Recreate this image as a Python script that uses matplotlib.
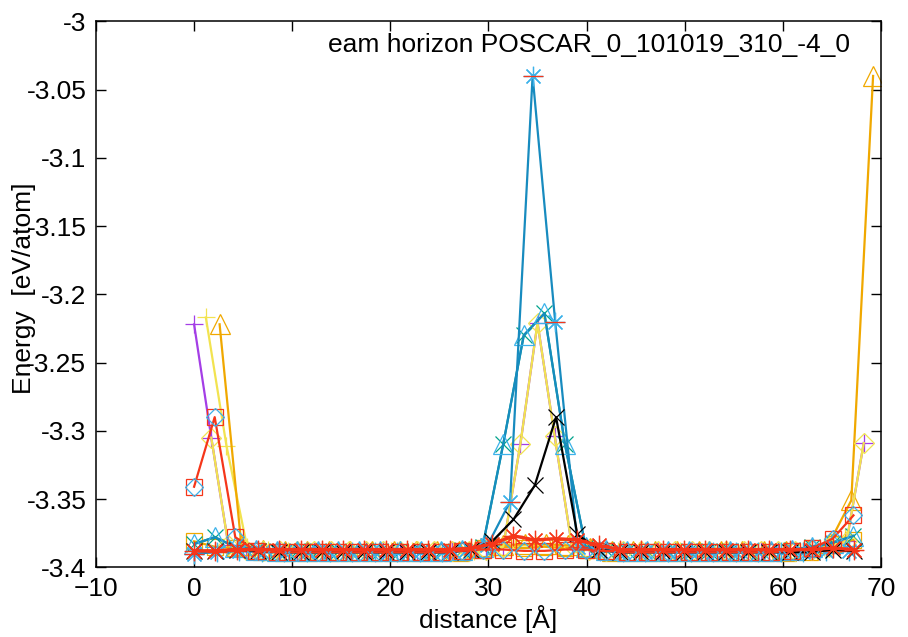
import matplotlib
matplotlib.use("Agg")
import matplotlib.pyplot as plt
from matplotlib.ticker import FormatStrFormatter, MultipleLocator

plt.rcParams["font.family"] = ["Liberation Sans", "DejaVu Sans"]

# ---- distance grids of the individual runs ----
dist_a = [0.0, 2.1, 4.2, 6.3, 8.4, 10.5, 12.6, 14.7, 16.8, 18.9, 21.0, 23.1, 25.2,
          27.3, 29.4, 31.5, 33.6, 35.7, 37.8, 39.9, 42.0, 44.1, 46.2, 48.3, 50.4,
          52.5, 54.6, 56.7, 58.8, 60.9, 63.0, 65.1, 67.2]
dist_b = [0.0, 1.75, 3.5, 5.25, 7.0, 8.75, 10.5, 12.25, 14.0, 15.75, 17.5, 19.25,
          21.0, 22.75, 24.5, 26.25, 28.0, 29.75, 31.5, 33.25, 35.0, 36.75, 38.5,
          40.25, 42.0, 43.75, 45.5, 47.25, 49.0, 50.75, 52.5, 54.25, 56.0, 57.75,
          59.5, 61.25, 63.0, 64.75, 66.5, 68.25]
dist_c = [0.0, 2.17, 4.34, 6.51, 8.68, 10.85, 13.02, 15.19, 17.36, 19.53, 21.7,
          23.87, 26.04, 28.21, 30.38, 32.55, 34.72, 36.89, 39.06, 41.23, 43.4,
          45.57, 47.74, 49.91, 52.08, 54.25, 56.42, 58.59, 60.76, 62.93, 65.1, 67.27]
dist_d = [0.0, 2.3, 4.6, 6.9, 9.2, 11.5, 13.8, 16.1, 18.4, 20.7, 23.0, 25.3, 27.6,
          29.9, 32.2, 34.5, 36.8, 39.1, 41.4, 43.7, 46.0, 48.3, 50.6, 52.9, 55.2,
          57.5, 59.8, 62.1, 64.4, 66.7]
dist_e = [2.6, 4.82, 7.04, 9.26, 11.48, 13.7, 15.92, 18.14, 20.36, 22.58, 24.8,
          27.02, 29.24, 31.46, 33.68, 35.9, 38.12, 40.34, 42.56, 44.78, 47.0, 49.22,
          51.44, 53.66, 55.88, 58.1, 60.32, 62.54, 64.76, 66.98, 69.2]
dist_f = [1.2, 3.3, 5.4, 7.5, 9.6, 11.7, 13.8, 15.9, 18.0, 20.1, 22.2, 24.3, 26.4,
          28.5, 30.6, 32.7, 34.8, 36.9, 39.0, 41.1, 43.2, 45.3, 47.4, 49.5, 51.6,
          53.7, 55.8, 57.9, 60.0, 62.1, 64.2, 66.3]

# ---- energies [eV/atom] ----
purple_plus = [-3.222, -3.305, -3.384, -3.387,
               -3.388, -3.388, -3.388, -3.388, -3.388, -3.388, -3.388, -3.388,
               -3.388, -3.388, -3.388, -3.388, -3.388,
               -3.387, -3.385, -3.310, -3.221, -3.304, -3.384, -3.387,
               -3.388, -3.388, -3.388, -3.388, -3.388, -3.388, -3.388, -3.388,
               -3.388, -3.388, -3.388, -3.388,
               -3.387, -3.385, -3.381, -3.309]
yellow_plus = [-3.217, -3.311, -3.385, -3.387,
               -3.388, -3.388, -3.388, -3.388, -3.388, -3.388, -3.388, -3.388,
               -3.388, -3.388,
               -3.386, -3.384, -3.384, -3.384, -3.386, -3.388,
               -3.388, -3.388, -3.388, -3.388, -3.388, -3.388, -3.388, -3.388,
               -3.388, -3.388,
               -3.385, -3.378]
orange_tri = [-3.222, -3.384, -3.387,
              -3.388, -3.388, -3.388, -3.388, -3.388, -3.388, -3.388, -3.388, -3.388,
              -3.386, -3.384, -3.383, -3.383, -3.384, -3.386,
              -3.388, -3.388, -3.388, -3.388, -3.388, -3.388, -3.388, -3.388, -3.388,
              -3.387, -3.382, -3.351, -3.040]
orange_sq = [-3.381, -3.385, -3.386, -3.388,
             -3.389, -3.389, -3.389, -3.389, -3.389, -3.389, -3.389, -3.389, -3.389,
             -3.388, -3.386, -3.385, -3.386, -3.385, -3.386, -3.386, -3.388,
             -3.389, -3.389, -3.389, -3.389, -3.389, -3.389, -3.389, -3.389,
             -3.388, -3.386, -3.383, -3.380]
teal_tri = [-3.383, -3.378, -3.385, -3.387,
            -3.388, -3.388, -3.388, -3.388, -3.388, -3.388, -3.388, -3.388, -3.388,
            -3.387, -3.385, -3.310, -3.230, -3.214, -3.310, -3.385, -3.387,
            -3.388, -3.388, -3.388, -3.388, -3.388, -3.388, -3.388, -3.388,
            -3.387, -3.385, -3.382, -3.377]
peak_star = [-3.390, -3.389, -3.388,
             -3.389, -3.389, -3.389, -3.389, -3.389, -3.389, -3.389, -3.389, -3.389,
             -3.388, -3.384, -3.352, -3.040, -3.220, -3.385, -3.388,
             -3.389, -3.389, -3.389, -3.389, -3.389, -3.389, -3.389, -3.389, -3.389,
             -3.388, -3.388]
black_cross = [-3.388, -3.388, -3.387, -3.388,
               -3.389, -3.389, -3.389, -3.389, -3.389, -3.389, -3.389, -3.389, -3.389,
               -3.387, -3.381, -3.365, -3.340, -3.290, -3.376, -3.387,
               -3.389, -3.389, -3.389, -3.389, -3.389, -3.389, -3.389, -3.389,
               -3.389, -3.389,
               -3.387, -3.388]
red_square = [-3.341, -3.290, -3.378, -3.388,
              -3.389, -3.389, -3.389, -3.389, -3.389, -3.389, -3.389, -3.389, -3.389,
              -3.388, -3.387, -3.387, -3.388, -3.388, -3.387, -3.387, -3.388,
              -3.389, -3.389, -3.389, -3.389, -3.389, -3.389, -3.389, -3.389,
              -3.388, -3.386, -3.379, -3.362]
red_star = [-3.388, -3.388, -3.387, -3.387,
            -3.387, -3.387, -3.387, -3.387, -3.387, -3.387, -3.387, -3.387, -3.387,
            -3.386, -3.383, -3.377, -3.380, -3.379, -3.380, -3.384,
            -3.387, -3.387, -3.387, -3.387, -3.387, -3.387, -3.387, -3.387,
            -3.387, -3.387,
            -3.386, -3.387]

title_text = "eam horizon POSCAR_0_101019_310_-4_0"
x_ticks = [-10, 0, 10, 20, 30, 40, 50, 60, 70]

PURPLE = "#a43ee6"
YELLOW = "#f2e350"
ORANGE = "#f0a800"
TEAL = "#00a38c"
SKY = "#3cb2ea"
BLUE = "#178bbf"
RED = "#f5361a"
ASTER = (8, 2, 0)  # gnuplot-style asterisk: plus and cross combined

fig = plt.figure(figsize=(9.08, 6.37), dpi=100)
ax = fig.add_axes([0.1057, 0.1095, 0.8645, 0.857])

lw = 1.6
mew = 0.9
ax.plot(dist_b, purple_plus, color=PURPLE, lw=lw, marker="+", ms=13, mew=mew)
ax.plot(dist_f, yellow_plus, color=YELLOW, lw=lw, marker="+", ms=13, mew=mew)
ax.plot(dist_e, orange_tri, color=ORANGE, lw=lw, marker="^", ms=15, mew=mew,
        mfc="none")
ax.plot(dist_a, orange_sq, color=ORANGE, lw=lw, marker="s", ms=12, mew=mew,
        mfc="none")
ax.plot(dist_a, teal_tri, color=TEAL, lw=lw, marker="x", ms=11, mew=mew)
ax.plot(dist_b[1:], purple_plus[1:], color=YELLOW, lw=lw, marker="D", ms=10,
        mew=mew, mfc="none")
ax.plot(dist_a, teal_tri, color=BLUE, lw=lw, marker="^", ms=15, mew=mew,
        mfc="none", mec=SKY)
ax.plot(dist_d, peak_star, color=BLUE, lw=lw, marker=ASTER, ms=14, mew=mew,
        mec=SKY)
ax.plot(dist_d, peak_star, ls="none", marker="_", ms=14, mew=mew, mec=RED)
ax.plot(dist_c, black_cross, color="black", lw=lw, marker="x", ms=11, mew=mew)
ax.plot(dist_a, red_square, color=RED, lw=lw, marker="s", ms=12, mew=mew,
        mfc="none")
ax.plot(dist_a, red_square, ls="none", marker="D", ms=9, mew=mew, mfc="none",
        mec=SKY)
ax.plot(dist_c, red_star, color=RED, lw=2.4, marker=ASTER, ms=14, mew=mew)

ax.set_xlim(-10, 70)
ax.set_ylim(-3.4, -3.0)
ax.set_xticks(x_ticks)
ax.yaxis.set_major_locator(MultipleLocator(0.05))
ax.yaxis.set_major_formatter(FormatStrFormatter("%g"))
ax.tick_params(direction="in", length=7, width=1, top=True, right=True,
               labelsize=19, pad=7)
for s in ax.spines.values():
    s.set_linewidth(1.1)

ax.set_xlabel("distance [Å]", fontsize=19, labelpad=3)
ax.set_ylabel("Energy  [eV/atom]", fontsize=19)
ax.yaxis.set_label_coords(-0.076, 0.511)
ax.text(0.961, 0.956, title_text, transform=ax.transAxes, ha="right",
        va="center", fontsize=19)

fig.savefig("out.png", dpi=100)
